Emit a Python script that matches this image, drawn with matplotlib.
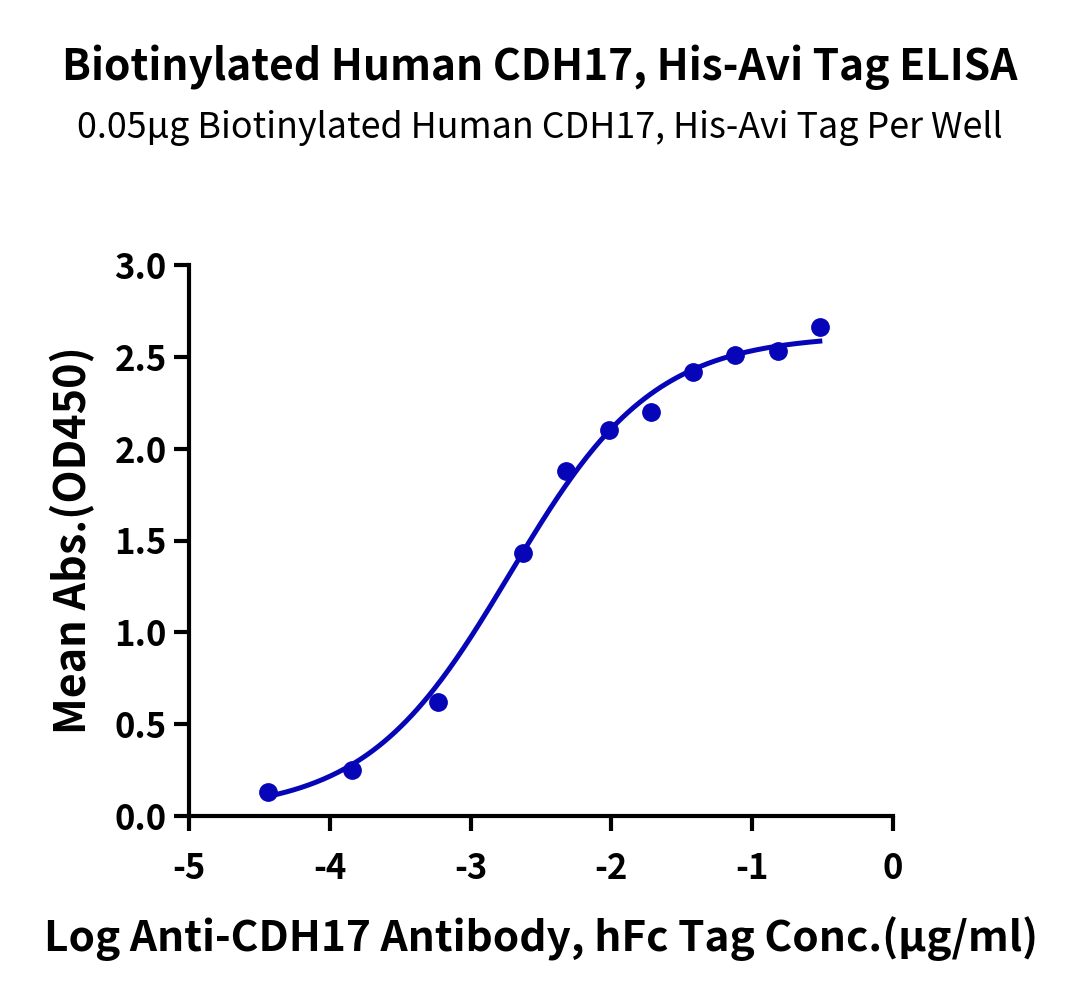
import numpy as np
import matplotlib
matplotlib.use("Agg")
from matplotlib import pyplot as plt

plt.rcParams['font.family'] = ['Noto Sans CJK SC', 'DejaVu Sans']

# log10 of antibody concentration (ug/ml) and mean OD450
log_conc = [-4.44, -3.84, -3.23, -2.63, -2.32, -2.02, -1.72, -1.42, -1.12, -0.82, -0.52]
od450 = [0.13, 0.25, 0.62, 1.43, 1.88, 2.10, 2.20, 2.42, 2.51, 2.53, 2.66]

# 4PL fit parameters
fit_bottom = 0.02
fit_top = 2.62
fit_log_ec50 = -2.72
fit_hill = 0.85

x_ticks = [-5, -4, -3, -2, -1, 0]
y_ticks = [0.0, 0.5, 1.0, 1.5, 2.0, 2.5, 3.0]

title = 'Biotinylated Human CDH17, His-Avi Tag ELISA'
subtitle = '0.05μg Biotinylated Human CDH17, His-Avi Tag Per Well'
x_label = 'Log Anti-CDH17 Antibody, hFc Tag Conc.(μg/ml)'
y_label = 'Mean Abs.(OD450)'

color = '#0606B8'

fig = plt.figure(figsize=(10.8, 10), dpi=100)
ax = fig.add_axes([189 / 1080, 0.184, 704 / 1080, 0.551])

xs = np.linspace(log_conc[0], log_conc[-1], 300)
ys = fit_bottom + (fit_top - fit_bottom) / (1 + 10 ** ((fit_log_ec50 - xs) * fit_hill))
ax.plot(xs, ys, color=color, lw=3.6, zorder=2)
ax.plot(log_conc, od450, 'o', color=color, ms=12.5, zorder=3, clip_on=False)

ax.set_xlim(-5, 0)
ax.set_ylim(0, 3)
ax.set_xticks(x_ticks)
ax.set_yticks(y_ticks)
ax.set_xticklabels([str(t) for t in x_ticks])
ax.set_yticklabels(['%.1f' % t for t in y_ticks])

for side in ['top', 'right']:
    ax.spines[side].set_visible(False)
for side in ['left', 'bottom']:
    ax.spines[side].set_linewidth(3)
ax.tick_params(width=3, length=11, labelsize=25)
ax.tick_params(axis='x', pad=14)
ax.tick_params(axis='y', pad=5)
for lab in ax.get_xticklabels() + ax.get_yticklabels():
    lab.set_fontweight('bold')

ax.set_xlabel(x_label, fontsize=30.5, fontweight='bold', labelpad=22)
ax.set_ylabel(y_label, fontsize=31, fontweight='bold', labelpad=14)

fig.text(0.5, 0.933, title, ha='center', va='center', fontsize=30.6, fontweight='bold')
fig.text(0.5, 0.872, subtitle, ha='center', va='center', fontsize=25.8)

plt.savefig('out.png', dpi=100)
